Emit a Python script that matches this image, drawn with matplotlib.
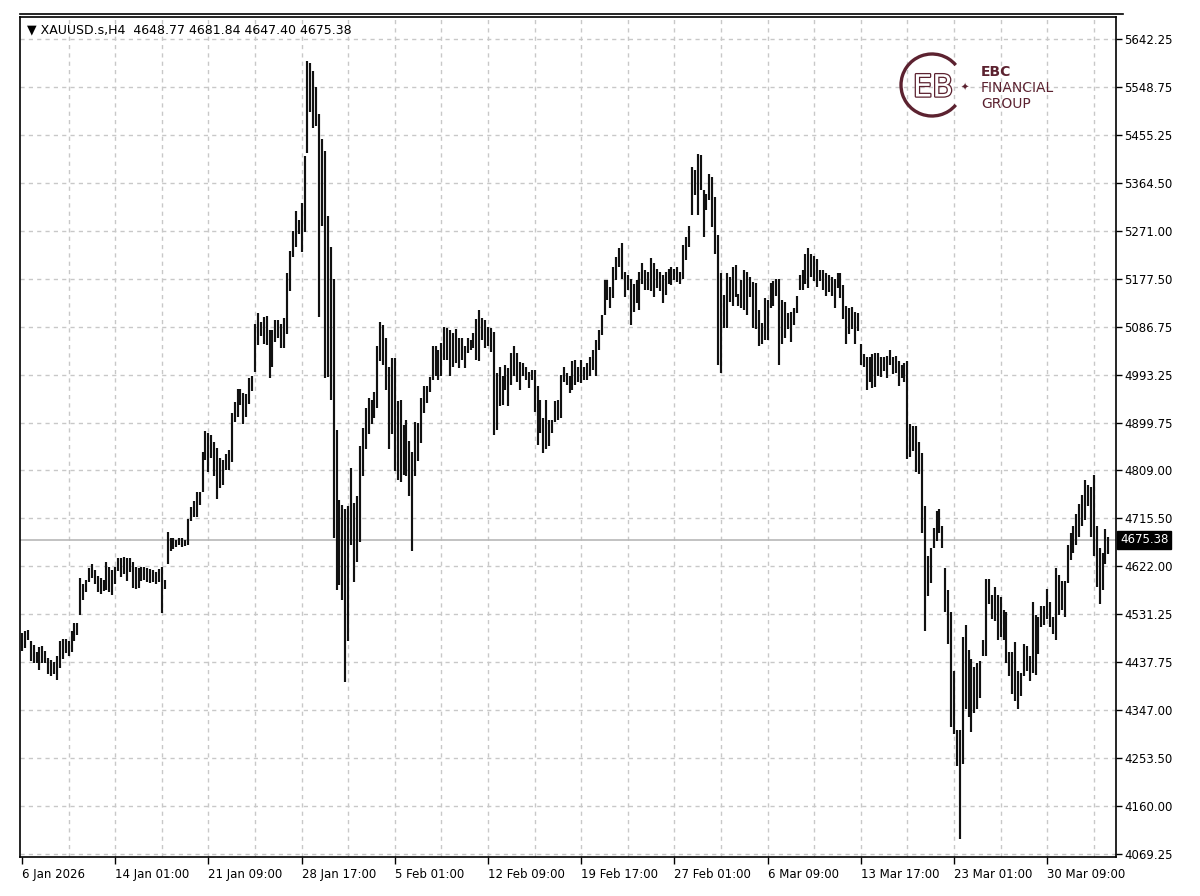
import matplotlib
matplotlib.use("Agg")
import matplotlib.pyplot as plt
import matplotlib.patheffects as pe
from matplotlib.lines import Line2D
from matplotlib.patches import Arc
import numpy as np

# ---------------- data ----------------
symbol = "XAUUSD.s,H4"
last_ohlc = [4648.77, 4681.84, 4647.40, 4675.38]

x_labels = ["6 Jan 2026", "14 Jan 01:00", "21 Jan 09:00", "28 Jan 17:00", "5 Feb 01:00",
            "12 Feb 09:00", "19 Feb 17:00", "27 Feb 01:00", "6 Mar 09:00", "13 Mar 17:00",
            "23 Mar 01:00", "30 Mar 09:00"]
bars_per_label = 32

y_labels = ["4069.25", "4160.00", "4253.50", "4347.00", "4437.75", "4531.25", "4622.00",
            "4715.50", "4809.00", "4899.75", "4993.25", "5086.75", "5177.50", "5271.00",
            "5364.50", "5455.25", "5548.75", "5642.25"]

highs = [
    4496, 4500, 4502, 4480, 4472, 4460, 4468, 4470, 4462, 4448, 4444, 4440, 4452, 4480, 4484, 4484,
    4480, 4499, 4516, 4515, 4602, 4590, 4598, 4621, 4629, 4617, 4606, 4602, 4598, 4633, 4624, 4617,
    4624, 4641, 4641, 4643, 4640, 4641, 4633, 4624, 4622, 4624, 4624, 4622, 4619, 4617, 4614, 4619,
    4624, 4598, 4690, 4679, 4680, 4676, 4680, 4679, 4676, 4716, 4739, 4751, 4767, 4767, 4845, 4886,
    4881, 4877, 4865, 4853, 4833, 4830, 4841, 4849, 4920, 4941, 4967, 4967, 4959, 4957, 4987, 4991,
    5093, 5113, 5097, 5105, 5107, 5081, 5081, 5099, 5100, 5093, 5103, 5191, 5234, 5271, 5311, 5293,
    5326, 5417, 5600, 5596, 5580, 5549, 5498, 5450, 5427, 5300, 5240, 5180, 4888, 4752, 4743, 4735,
    4740, 4814, 4747, 4760, 4857, 4892, 4930, 4950, 4945, 4960, 5050, 5096, 5090, 5065, 5010, 5026,
    5026, 4943, 4946, 4898, 4907, 4866, 4846, 4904, 4901, 4949, 4972, 4972, 4990, 5049, 5049, 5042,
    5055, 5087, 5084, 5081, 5074, 5082, 5065, 5065, 5049, 5065, 5062, 5074, 5101, 5120, 5103, 5100,
    5087, 5084, 5077, 4997, 5010, 4991, 5013, 5007, 5037, 5049, 5036, 5018, 5016, 5010, 5000, 5004,
    5004, 4972, 4946, 4910, 4946, 4907, 4907, 4943, 4946, 4994, 5010, 4997, 4991, 5020, 5023, 5010,
    5023, 5010, 5016, 5029, 5042, 5061, 5081, 5110, 5177, 5178, 5164, 5203, 5222, 5238, 5249, 5193,
    5187, 5180, 5170, 5177, 5193, 5210, 5196, 5193, 5219, 5209, 5199, 5193, 5187, 5193, 5199, 5203,
    5199, 5203, 5193, 5244, 5260, 5281, 5395, 5389, 5421, 5418, 5350, 5344, 5382, 5376, 5338, 5264,
    5190, 5148, 5190, 5183, 5203, 5206, 5151, 5177, 5196, 5193, 5183, 5174, 5172, 5120, 5094, 5142,
    5138, 5172, 5175, 5179, 5179, 5138, 5135, 5113, 5116, 5124, 5146, 5186, 5197, 5227, 5238, 5228,
    5223, 5218, 5197, 5197, 5190, 5186, 5183, 5179, 5190, 5190, 5168, 5127, 5124, 5125, 5116, 5113,
    5054, 5035, 5028, 5029, 5035, 5037, 5037, 5028, 5028, 5031, 5042, 5028, 5031, 5020, 5013, 5017,
    5020, 4900, 4895, 4895, 4865, 4843, 4740, 4644, 4659, 4699, 4732, 4736, 4703, 4622, 4578, 4537,
    4423, 4308, 4308,
    4489, 4511, 4463, 4445, 4430, 4437, 4441, 4482, 4600, 4600, 4570, 4585, 4570, 4566, 4541, 4537,
    4460, 4460, 4478, 4423, 4419, 4474, 4471, 4452, 4555, 4530, 4526, 4548, 4548, 4581, 4555, 4526,
    4622, 4607, 4596, 4596, 4666, 4688, 4703, 4725, 4744, 4762, 4792, 4781, 4777, 4800, 4703, 4659,
    4651, 4696, 4681.84,
]

lows = [
    4462, 4467, 4482, 4441, 4437, 4437, 4425, 4437, 4437, 4417, 4413, 4417, 4405, 4429, 4445, 4457,
    4452, 4460, 4480, 4492, 4531, 4559, 4574, 4594, 4602, 4590, 4574, 4572, 4577, 4578, 4574, 4569,
    4590, 4616, 4603, 4609, 4596, 4613, 4582, 4580, 4582, 4596, 4598, 4594, 4592, 4594, 4590, 4594,
    4535, 4580, 4629, 4655, 4658, 4661, 4665, 4661, 4663, 4665, 4712, 4720, 4720, 4743, 4767, 4830,
    4806, 4834, 4798, 4755, 4775, 4782, 4810, 4810, 4826, 4904, 4912, 4936, 4900, 4912, 4938, 4963,
    4999, 5051, 5069, 5054, 5051, 4988, 5010, 5058, 5065, 5046, 5046, 5073, 5156, 5222, 5240, 5266,
    5232, 5270, 5423, 5502, 5470, 5474, 5105, 5282, 4987, 4990, 4945, 4680, 4579, 4588, 4559, 4402,
    4480, 4665, 4594, 4633, 4672, 4798, 4850, 4880, 4900, 4910, 4930, 5020, 5013, 4965, 4850, 4880,
    4808, 4792, 4788, 4801, 4798, 4760, 4654, 4798, 4827, 4862, 4920, 4940, 4960, 4985, 4991, 4985,
    4991, 5023, 5023, 4991, 5010, 5017, 5007, 5023, 5007, 5036, 5042, 5046, 5023, 5020, 5062, 5046,
    5049, 5039, 4878, 4888, 4933, 4936, 4965, 4933, 4975, 4991, 4981, 4965, 4991, 4984, 4968, 4984,
    4923, 4859, 4882, 4843, 4850, 4856, 4882, 4904, 4907, 4910, 4981, 4975, 4959, 4965, 4975, 4981,
    4978, 4984, 4984, 4991, 5004, 4991, 5042, 5071, 5110, 5138, 5123, 5142, 5177, 5203, 5180, 5145,
    5158, 5090, 5116, 5132, 5119, 5170, 5158, 5158, 5155, 5145, 5161, 5155, 5132, 5148, 5170, 5167,
    5177, 5174, 5170, 5180, 5216, 5241, 5302, 5341, 5302, 5350, 5260, 5312, 5331, 5280, 5228, 5013,
    4997, 5084, 5084, 5135, 5126, 5145, 5126, 5123, 5119, 5110, 5145, 5084, 5083, 5050, 5054, 5061,
    5061, 5124, 5127, 5146, 5013, 5054, 5065, 5083, 5057, 5090, 5113, 5157, 5157, 5170, 5161, 5183,
    5175, 5164, 5175, 5157, 5146, 5153, 5146, 5124, 5161, 5142, 5101, 5054, 5072, 5083, 5054, 5079,
    5013, 5009, 4965, 4980, 4969, 4970, 4991, 4989, 5002, 4987, 5013, 4995, 4998, 4972, 4987, 4980,
    4832, 4836, 4847, 4806, 4803, 4688, 4500, 4567, 4592, 4659, 4674, 4688, 4659, 4537, 4474, 4315,
    4300, 4240, 4098,
    4242, 4349, 4334, 4305, 4341, 4349, 4371, 4452, 4452, 4552, 4522, 4519, 4482, 4489, 4482, 4437,
    4412, 4378, 4364, 4349, 4375, 4412, 4423, 4404, 4419, 4415, 4456, 4508, 4511, 4522, 4508, 4493,
    4482, 4530, 4541, 4526, 4592, 4637, 4651, 4666, 4681, 4703, 4714, 4740, 4681, 4644, 4585, 4552,
    4578, 4629, 4647.40,
]

# ---------------- figure ----------------
W, H = 1200, 896
fig = plt.figure(figsize=(W / 100, H / 100), dpi=100)
fig.patch.set_facecolor("white")

ax_left, ax_right, ax_top, ax_bottom = 20, 1116, 17, 857
ax = fig.add_axes([ax_left / W, 1 - ax_bottom / H, (ax_right - ax_left) / W, (ax_bottom - ax_top) / H])
ax.set_facecolor("white")

n = len(highs)
idx = np.arange(n)
px_per_bar = 2.9125
ax.set_xlim(-2 / px_per_bar, (ax_right - 22) / px_per_bar)

ytick_pos = np.linspace(float(y_labels[0]), float(y_labels[-1]), len(y_labels))
px_per_price = (854 - 39) / (ytick_pos[-1] - ytick_pos[0])
ax.set_ylim(ytick_pos[0] - (ax_bottom - 854) / px_per_price,
            ytick_pos[-1] + (39 - ax_top) / px_per_price)

grid_kw = dict(color="#c8c8c8", lw=1.0, ls=(0, (3, 3)), zorder=0)
for p in ytick_pos:
    ax.axhline(p, **grid_kw)
for gx in range(bars_per_label // 2, n, bars_per_label // 2):
    ax.axvline(gx, **grid_kw)

# current price line
ax.axhline(last_ohlc[3], color="#b8b8b8", lw=1.2, zorder=1)

# bars
ax.vlines(idx, lows, highs, color="#111111", lw=1.55, zorder=3)

# axes styling
for s in ax.spines.values():
    s.set_color("black")
    s.set_linewidth(1.2)

ax.yaxis.tick_right()
ax.set_yticks(ytick_pos)
ax.set_yticklabels(y_labels, fontsize=8.5, family="DejaVu Sans")
ax.tick_params(axis="y", direction="out", length=4, width=1, pad=2, colors="black", left=False)

xt = np.arange(len(x_labels)) * bars_per_label
ax.set_xticks(xt)
ax.set_xticklabels(x_labels, fontsize=8.5, ha="left", family="DejaVu Sans")
ax.tick_params(axis="x", direction="out", length=5, width=1, pad=3, colors="black")

# current price tag
ax.annotate(f"{last_ohlc[3]:.2f}", xy=(1, last_ohlc[3]), xycoords=("axes fraction", "data"),
            xytext=(3, 0), textcoords="offset points", color="white", fontsize=8.5,
            va="center", ha="left",
            bbox=dict(boxstyle="square,pad=0.25", fc="black", ec="black"), annotation_clip=False)

# top line above the chart window
fig.add_artist(Line2D([20 / W, 1123 / W], [1 - 14 / H, 1 - 14 / H], color="black", lw=1.2))

# header text
header = "\u25BC " + symbol + "  " + " ".join(f"{v:.2f}" for v in last_ohlc)
fig.text(27 / W, 1 - 30 / H, header, fontsize=9, ha="left", va="center", color="black",
         family="DejaVu Sans")

# ---------------- logo ----------------
maroon = "#5c2230"
logo_ax = fig.add_axes([0, 0, 1, 1], facecolor="none")
logo_ax.set_xlim(0, W)
logo_ax.set_ylim(H, 0)
logo_ax.axis("off")
logo_ax.add_patch(Arc((932, 85), 62, 62, angle=0, theta1=40, theta2=320, color=maroon, lw=2.4))
outline = [pe.Stroke(linewidth=1.8, foreground=maroon), pe.Normal()]
logo_ax.text(933, 88, "EB", fontsize=22, color="white", ha="center", va="center",
             family="DejaVu Sans", path_effects=outline)
logo_ax.text(965, 88, "\u2726", fontsize=7, color=maroon, ha="center", va="center", family="DejaVu Sans")
logo_ax.text(981, 72, "EBC", fontsize=10, color=maroon, ha="left", va="center", fontweight="bold",
             family="DejaVu Sans")
logo_ax.text(981, 88, "FINANCIAL", fontsize=10, color=maroon, ha="left", va="center", family="DejaVu Sans")
logo_ax.text(981, 104, "GROUP", fontsize=10, color=maroon, ha="left", va="center", family="DejaVu Sans")

fig.savefig("out.png", dpi=100, facecolor="white")
